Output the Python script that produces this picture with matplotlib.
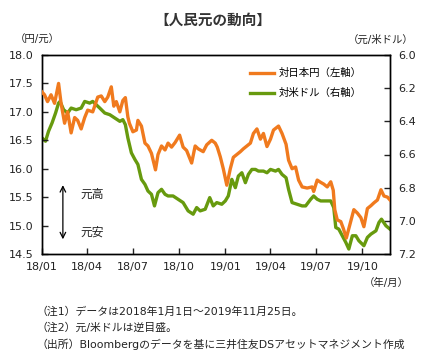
import numpy as np
import pandas as pd
import matplotlib
matplotlib.use("Agg")
import matplotlib.pyplot as plt
import matplotlib.dates as mdates
from matplotlib.ticker import FormatStrFormatter

plt.rcParams['font.family'] = ['DejaVu Sans', 'Noto Sans CJK JP']

# days since 2018-01-01
jpy_days = [0, 5, 11, 18, 25, 33, 38, 45, 51, 58, 65, 71, 78, 85, 91, 101, 111, 118,
            125, 131, 138, 143, 148, 155, 161, 166, 171, 174, 181, 188, 191, 198, 205,
            211, 218, 226, 231, 238, 245, 251, 258, 265, 274, 281, 288, 298, 305, 311,
            321, 328, 338, 345, 349, 355, 361, 368, 375, 381, 388, 395, 401, 408, 415,
            421, 428, 435, 441, 448, 455, 461, 471, 478, 486, 491, 498, 505, 511, 518,
            528, 538, 541, 548, 555, 561, 568, 575, 580, 583, 588, 595, 600, 606, 615,
            621, 628, 635, 641, 648, 655, 661, 668, 675, 681, 688, 693]
jpy_vals = [17.35, 17.30, 17.18, 17.30, 17.15, 17.50, 17.15, 16.80, 17.00, 16.63, 16.90,
            16.85, 16.70, 16.90, 17.03, 17.00, 17.26, 17.28, 17.18, 17.26, 17.44, 17.10,
            17.18, 17.00, 17.20, 17.25, 16.91, 16.80, 16.65, 16.68, 16.85, 16.75, 16.45,
            16.40, 16.27, 15.98, 16.25, 16.40, 16.33, 16.45, 16.38, 16.46, 16.59, 16.38,
            16.32, 16.10, 16.40, 16.35, 16.30, 16.42, 16.50, 16.45, 16.38, 16.21, 16.00,
            15.71, 16.00, 16.20, 16.25, 16.30, 16.35, 16.40, 16.45, 16.62, 16.70, 16.52,
            16.62, 16.39, 16.52, 16.68, 16.75, 16.62, 16.43, 16.15, 16.00, 16.03, 15.80,
            15.68, 15.66, 15.68, 15.60, 15.80, 15.76, 15.73, 15.68, 15.77, 15.62, 15.28,
            15.10, 15.07, 14.95, 14.78, 15.08, 15.28, 15.22, 15.14, 14.98, 15.30, 15.35,
            15.40, 15.45, 15.63, 15.52, 15.50, 15.45]

usd_days = [0, 7, 13, 20, 27, 33, 36, 43, 51, 58, 68, 78, 85, 95, 101, 108, 115, 125,
            135, 145, 155, 161, 166, 171, 178, 185, 191, 198, 205, 211, 218, 224, 231,
            238, 245, 251, 261, 271, 281, 291, 301, 308, 315, 325, 334, 341, 348, 358,
            365, 371, 378, 385, 391, 398, 405, 411, 418, 425, 431, 441, 448, 455, 465,
            471, 478, 486, 491, 498, 508, 518, 525, 535, 541, 548, 555, 568, 575, 581,
            585, 591, 598, 605, 611, 618, 625, 631, 641, 648, 655, 665, 671, 676, 685, 693]
usd_vals = [6.50, 6.52, 6.46, 6.41, 6.35, 6.29, 6.28, 6.33, 6.35, 6.32, 6.33, 6.32, 6.28,
            6.29, 6.28, 6.30, 6.32, 6.35, 6.36, 6.38, 6.40, 6.39, 6.42, 6.50, 6.59, 6.63,
            6.66, 6.75, 6.78, 6.82, 6.84, 6.91, 6.83, 6.81, 6.84, 6.85, 6.85, 6.87, 6.89,
            6.94, 6.96, 6.92, 6.94, 6.93, 6.86, 6.91, 6.89, 6.90, 6.88, 6.85, 6.75, 6.80,
            6.73, 6.71, 6.77, 6.72, 6.69, 6.69, 6.70, 6.70, 6.71, 6.69, 6.70, 6.69, 6.72,
            6.74, 6.81, 6.89, 6.90, 6.91, 6.91, 6.87, 6.85, 6.87, 6.88, 6.88, 6.88, 6.92,
            7.04, 7.05, 7.09, 7.13, 7.17, 7.09, 7.09, 7.12, 7.15, 7.10, 7.08, 7.06, 7.01,
            6.99, 7.03, 7.05]

start = pd.Timestamp('2018-01-01')
jpy_dates = start + pd.to_timedelta(jpy_days, unit='D')
usd_dates = start + pd.to_timedelta(usd_days, unit='D')

tick_dates = pd.date_range('2018-01-01', '2019-10-01', freq='3MS')

orange = '#F07A1E'
green = '#679A0E'
txt = '#222222'

fig = plt.figure(figsize=(4.26, 3.55), dpi=100)
ax = fig.add_axes([42/426, 1-254/355, 348/426, 199/355])
ax2 = ax.twinx()

ax.plot(jpy_dates, jpy_vals, color=orange, lw=2.4, label='対日本円（左軸）', zorder=3)
ax2.plot(usd_dates, usd_vals, color=green, lw=2.4, label='対米ドル（右軸）')
ax.set_zorder(ax2.get_zorder() + 1)
ax.patch.set_visible(False)

ax.set_xlim(start, pd.Timestamp('2019-11-25'))
ax.set_ylim(14.5, 18.0)
ax.set_yticks(np.arange(14.5, 18.01, 0.5))
ax.yaxis.set_major_formatter(FormatStrFormatter('%.1f'))
ax2.set_ylim(7.2, 6.0)
ax2.set_yticks(np.arange(6.0, 7.21, 0.2))
ax2.yaxis.set_major_formatter(FormatStrFormatter('%.1f'))
ax.set_xticks(tick_dates)
ax.xaxis.set_major_formatter(mdates.DateFormatter('%y/%m'))

for a in (ax, ax2):
    a.tick_params(direction='in', length=4, width=1, labelsize=8, colors=txt,
                  pad=6)
    for s in a.spines.values():
        s.set_linewidth(1)
        s.set_color('black')

# legend
lines = [ax.lines[0], ax2.lines[0]]
ax.legend(lines, [l.get_label() for l in lines], loc='upper left',
          bbox_to_anchor=(0.57, 0.98), frameon=False, fontsize=7.5,
          handlelength=2.3, handletextpad=0.45, labelspacing=0.95)

# arrow annotation
ax.annotate('', xy=(0.06, 0.36), xytext=(0.06, 0.06),
            xycoords='axes fraction',
            arrowprops=dict(arrowstyle='<->', lw=0.9, color='black'))
ax.text(0.109, 0.30, '元高', transform=ax.transAxes, fontsize=8.5, color=txt,
        va='center')
ax.text(0.109, 0.11, '元安', transform=ax.transAxes, fontsize=8.5, color=txt,
        va='center')

fig.text(0.5, 1-20/355, '【人民元の動向】', ha='center', va='center',
         fontsize=10.5, fontweight='bold', color='#333333')
fig.text(37/426, 1-40/355, '（円/元）', ha='center', va='center', fontsize=7.5,
         color=txt)
fig.text(381/426, 1-40/355, '（元/米ドル）', ha='center', va='center', fontsize=7.5,
         color=txt)
fig.text(386/426, 1-283/355, '（年/月）', ha='center', va='center', fontsize=7.5,
         color=txt)

notes = ['（注1）データは2018年1月1日～2019年11月25日。',
         '（注2）元/米ドルは逆目盛。',
         '（出所）Bloombergのデータを基に三井住友DSアセットマネジメント作成']
for i, n in enumerate(notes):
    fig.text(37/426, 1-(312 + i*16)/355, n, ha='left', va='center', fontsize=7.8,
             color=txt)

fig.savefig('out.png', dpi=100)
